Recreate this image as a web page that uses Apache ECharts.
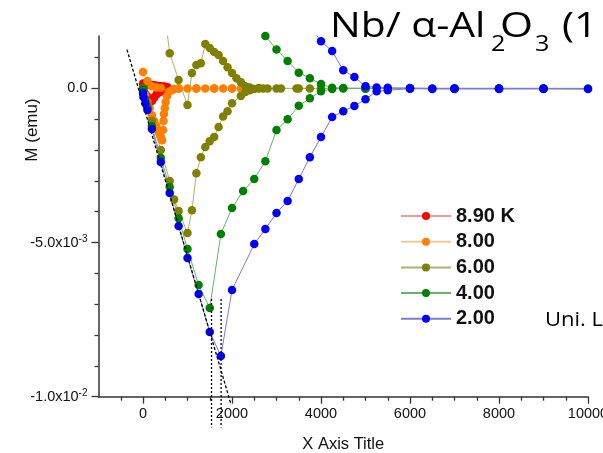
<!DOCTYPE html>
<html>
<head>
<meta charset="utf-8">
<script src="https://cdn.jsdelivr.net/npm/echarts@6/dist/echarts.min.js"></script>
<style>
  html, body { margin: 0; padding: 0; background: #fff; }
  #chart { width: 603px; height: 453px; }
</style>
</head>
<body>
<div id="chart"></div>
<script>
// M(H) loops of the Nb film, H in Oe, M in emu (virgin -> up -> back down)
const red89 = [
  [0, 0], [25, -0.10e-3], [50, -0.18e-3], [100, -0.26e-3], [150, -0.38e-3], [200, -0.41e-3],
  [250, -0.30e-3], [300, -0.20e-3], [350, -0.14e-3], [400, -0.10e-3], [450, -0.08e-3],
  [500, -0.06e-3], [550, -0.05e-3],
  [550, 0.04e-3], [500, 0.05e-3], [450, 0.06e-3], [400, 0.07e-3], [350, 0.08e-3], [300, 0.09e-3],
  [250, 0.10e-3], [200, 0.11e-3], [150, 0.12e-3], [100, 0.13e-3], [50, 0.15e-3], [0, 0.16e-3]
];
const orange8 = [
  [0, 0], [50, -0.22e-3], [100, -0.44e-3], [150, -0.64e-3], [200, -0.87e-3], [250, -1.06e-3],
  [300, -1.22e-3], [350, -1.42e-3], [400, -1.58e-3], [430, -1.68e-3],
  [450, -1.35e-3], [460, -1.06e-3], [470, -0.83e-3], [490, -0.64e-3], [510, -0.44e-3],
  [540, -0.25e-3], [580, -0.12e-3], [650, -0.06e-3], [700, -0.02e-3], [800, 0], [1000, 0],
  [1200, 0], [1400, 0], [1600, 0], [1800, 0], [2000, 0], [2200, 0],
  [2000, 0], [1600, 0], [1200, 0], [800, 0], [400, 0.01e-3], [300, 0.03e-3], [200, 0.07e-3],
  [100, 0.24e-3], [0, 0.53e-3]
];
const olive6 = [
  [0, 0], [100, -0.50e-3], [200, -1.05e-3], [400, -2.00e-3], [600, -3.00e-3], [700, -3.60e-3],
  [800, -3.98e-3], [1000, -4.69e-3],
  [1100, -3.95e-3], [1200, -2.75e-3], [1300, -2.23e-3], [1400, -1.90e-3], [1500, -1.71e-3],
  [1600, -1.58e-3], [1700, -1.25e-3], [1800, -0.91e-3], [1900, -0.74e-3], [2000, -0.48e-3],
  [2200, -0.25e-3], [2300, -0.12e-3], [2400, -0.06e-3], [2500, -0.02e-3], [2600, 0], [2700, 0],
  [2800, 0], [3100, 0], [3450, 0], [3750, 0], [4000, 0], [5000, 0], [6000, 0],
  [5000, 0], [4000, 0], [3500, 0], [3000, 0], [2600, 0.01e-3], [2400, 0.03e-3], [2300, 0.07e-3],
  [2200, 0.20e-3], [2100, 0.33e-3], [2000, 0.50e-3], [1900, 0.69e-3], [1800, 0.89e-3],
  [1700, 1.08e-3], [1600, 1.18e-3], [1500, 1.31e-3], [1400, 1.44e-3], [1300, 0.82e-3],
  [1200, 0.76e-3], [1100, 0.50e-3], [1000, -0.54e-3], [800, 0.27e-3], [600, 1.14e-3], [500, 2.3e-3]
];
const green4 = [
  [0, 0], [50, -0.35e-3], [100, -0.62e-3], [200, -1.22e-3], [400, -2.25e-3], [600, -3.20e-3],
  [800, -4.21e-3], [1000, -5.21e-3], [1250, -6.38e-3], [1500, -7.12e-3],
  [1750, -4.72e-3], [2000, -3.88e-3], [2250, -3.33e-3], [2500, -2.94e-3], [2750, -2.36e-3],
  [3000, -1.35e-3], [3250, -1.00e-3], [3500, -0.56e-3], [3750, -0.32e-3], [4000, -0.09e-3],
  [4250, -0.02e-3], [4500, 0], [5000, 0], [6000, 0], [7000, 0], [8000, 0], [9000, 0], [10000, 0],
  [9000, 0], [8000, 0], [7000, 0], [6000, 0], [5000, 0], [4500, 0.01e-3], [4250, 0.02e-3],
  [4000, 0.14e-3], [3750, 0.33e-3], [3500, 0.51e-3], [3250, 0.89e-3], [3000, 1.26e-3],
  [2750, 1.70e-3], [2500, 2.2e-3]
];
const blue2 = [
  [0, -0.15e-3], [10, -0.28e-3], [50, -0.48e-3], [100, -0.70e-3], [200, -1.32e-3], [400, -2.39e-3],
  [600, -3.39e-3], [800, -4.46e-3], [1000, -5.50e-3], [1250, -6.67e-3], [1500, -7.90e-3],
  [1750, -8.68e-3],
  [2000, -6.54e-3], [2500, -5.05e-3], [2750, -4.56e-3], [3000, -4.04e-3], [3250, -3.65e-3],
  [3500, -2.94e-3], [3750, -2.23e-3], [4000, -1.58e-3], [4250, -0.93e-3], [4500, -0.74e-3],
  [4750, -0.57e-3], [5000, -0.35e-3], [5250, -0.09e-3], [5500, -0.06e-3], [6000, -0.01e-3],
  [6500, -0.02e-3], [7000, -0.02e-3], [8000, -0.02e-3], [9000, -0.02e-3], [10000, -0.02e-3],
  [9000, 0], [8000, 0], [7000, 0], [6500, 0], [6000, 0.01e-3], [5500, 0.02e-3], [5250, 0.03e-3],
  [5000, 0.07e-3], [4750, 0.37e-3], [4500, 0.59e-3], [4250, 1.21e-3], [4000, 1.53e-3],
  [3750, 2.0e-3]
];

// guide lines drawn on the plot
const virginFit = [[-360, 1.26e-3], [1980, -10.26e-3]];
const hc1Green = [[1540, -6.83e-3], [1540, -11.0e-3]];
const hc1Blue = [[1755, -6.83e-3], [1755, -11.0e-3]];

const seriesNames = ['8.90 K', '8.00', '6.00', '4.00', '2.00'];
const pointColors = ['#ff0000', '#ff8000', '#808000', '#008000', '#0000ff'];
const lineColors = ['#f29a9a', '#f8c894', '#b0b070', '#6aaf6a', '#7b7bdc'];

const xMajor = [0, 2000, 4000, 6000, 8000, 10000];
const xMinor = [-500, 500, 1000, 1500, 2500, 3000, 3500, 4500, 5000, 5500, 6500, 7000, 7500, 8500, 9000, 9500];
const yMajor = [-0.01, -0.005, 0];
const yMinor = [-0.009, -0.008, -0.007, -0.006, -0.004, -0.003, -0.002, -0.001, 0.001];

const font = 'Liberation Sans';
const slideFont = 'Open Sans';
const axisColor = '#333';

const myChart = echarts.init(document.getElementById('chart'), null, { renderer: 'canvas' });

const loops = [red89, orange8, olive6, green4, blue2];
let series = loops.map((d, i) => ({
  name: seriesNames[i],
  type: 'line',
  data: d,
  symbol: 'circle',
  symbolSize: 8.5,
  itemStyle: { color: pointColors[i] },
  lineStyle: { color: lineColors[i], width: 1 },
  emphasis: { disabled: true },
  animation: false
}));

const guide = (d, dash) => ({
  type: 'line',
  data: d,
  symbol: 'none',
  clip: false,
  silent: true,
  lineStyle: { color: '#000', width: 1.3, type: dash },
  z: 5,
  animation: false
});
series.push(guide(virginFit, [3, 2]));
series.push(guide(hc1Green, [2, 2]));
series.push(guide(hc1Blue, [2, 2]));

const yLabel = function (v) {
  const k = Math.round(v * 1000);
  if (k === 0) return '0.0';
  if (k === -5) return '{m|-5.0x10}{s|-3}';
  if (k === -10) return '{m|-1.0x10}{s|-2}';
  return '';
};

// pieces of the slide text laid over the plot
const slideText = (text, x, y, size, sx) => ({
  type: 'text', x: x, y: y, scaleX: sx, z: 100,
  style: { text: text, fontFamily: slideFont, fontSize: size, fill: '#000',
    textAlign: 'left', textVerticalAlign: 'middle', align: 'left', verticalAlign: 'middle' }
});

const option = {
  backgroundColor: '#fff',
  grid: { left: 98.5, right: 15, top: 36, bottom: 56.3, containLabel: false, outerBoundsMode: 'none' },
  legend: {
    data: seriesNames,
    orient: 'vertical',
    left: 395,
    top: 201,
    itemWidth: 50,
    itemHeight: 10,
    itemGap: 5.7,
    textStyle: { fontFamily: font, fontSize: 20, fontWeight: 'bold', color: '#111', lineHeight: 20 }
  },
  xAxis: [{
    type: 'value', min: -1000, max: 10000, position: 'bottom',
    axisLine: { show: true, onZero: false, lineStyle: { color: axisColor, width: 1.5 } },
    axisTick: { show: true, customValues: xMajor, length: 7, lineStyle: { color: axisColor, width: 1.3 } },
    axisLabel: { customValues: xMajor, formatter: v => String(v), fontFamily: font, fontSize: 14.5, color: '#111', margin: 10 },
    splitLine: { show: false },
    name: 'X Axis Title', nameLocation: 'middle', nameGap: 39,
    nameTextStyle: { fontFamily: font, fontSize: 16.5, color: '#111' }
  }, {
    type: 'value', min: -1000, max: 10000, position: 'bottom',
    axisLine: { show: false, onZero: false },
    axisTick: { show: true, customValues: xMinor, length: 4, lineStyle: { color: axisColor, width: 1.3 } },
    axisLabel: { show: false },
    splitLine: { show: false }
  }],
  yAxis: [{
    type: 'value', min: -0.01, max: 0.0017, position: 'left',
    axisLine: { show: true, onZero: false, lineStyle: { color: axisColor, width: 1.5 } },
    axisTick: { show: true, customValues: yMajor, length: 7, lineStyle: { color: axisColor, width: 1.3 } },
    axisLabel: {
      customValues: yMajor, formatter: yLabel, margin: 11,
      fontFamily: font, fontSize: 14.5, color: '#111',
      rich: {
        m: { fontFamily: font, fontSize: 14.5, color: '#111', lineHeight: 16, verticalAlign: 'bottom' },
        s: { fontFamily: font, fontSize: 10, color: '#111', lineHeight: 10, verticalAlign: 'top', padding: [0, 0, 14, 0] }
      }
    },
    splitLine: { show: false }
  }, {
    type: 'value', min: -0.01, max: 0.0017, position: 'left',
    axisLine: { show: false, onZero: false },
    axisTick: { show: true, customValues: yMinor, length: 4, lineStyle: { color: axisColor, width: 1.3 } },
    axisLabel: { show: false },
    splitLine: { show: false }
  }],
  graphic: [
    { type: 'text', x: 32, y: 130, rotation: Math.PI / 2,
      style: { text: 'M (emu)', fontFamily: font, fontSize: 17, fill: '#111',
        textAlign: 'center', textVerticalAlign: 'middle', align: 'center', verticalAlign: 'middle' } },
    slideText('Nb/ α-Al', 330, 27, 34, 1.2),
    slideText('2', 491, 45, 21, 1.2),
    slideText('O', 500, 27, 34, 1.25),
    slideText('3', 535, 45, 21, 1.2),
    slideText('(1', 562, 27, 34, 1.2),
    slideText('Uni. L', 545, 320, 20, 1.1)
  ],
  series: series
};

myChart.setOption(option);
window.onresize = function () {
  myChart.resize();
};
</script>
</body>
</html>
